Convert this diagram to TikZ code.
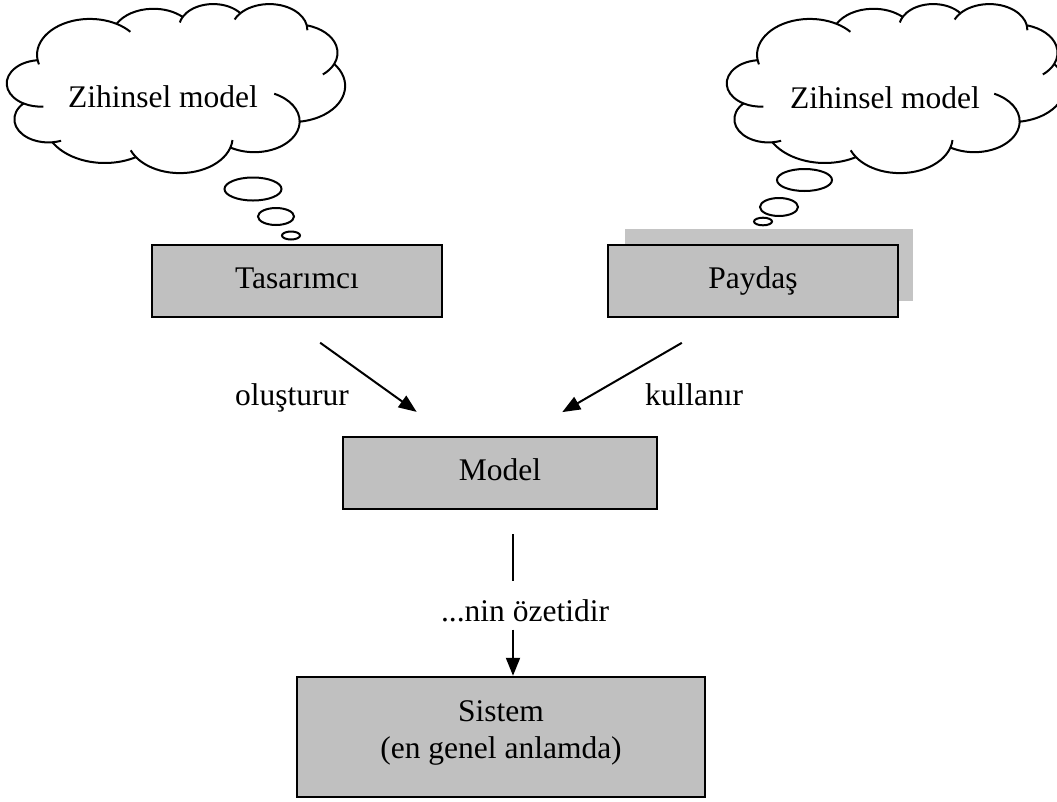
\documentclass[tikz,border=0pt]{standalone}
\usepackage{fontspec}
\setmainfont{Liberation Serif}
\usetikzlibrary{arrows.meta}
\definecolor{boxgray}{RGB}{192,192,192}
\definecolor{shadowgray}{RGB}{196,196,196}
\newcommand\diagfont{\fontsize{31.5}{37}\selectfont}

% Thought cloud built from elliptic lobes; the frame is 432 x 432 units.
\newcommand\thoughtcloud[1]{%
  \begin{scope}[shift={#1}]
  \begin{scope}[x=0.78241pt,y=-0.39120pt]
    \filldraw[cloudline,fill=white] (39.00,143.70) coordinate (c0)
      [lobe={67.53}{91.90}{-190.4875}{123.7805}] coordinate (c1)
      [lobe={53.33}{72.67}{-144.1024}{89.9452}] coordinate (c2)
      [lobe={43.65}{59.45}{-145.8079}{99.7230}] coordinate (c3)
      [lobe={48.57}{65.95}{-130.9861}{117.2417}] coordinate (c4)
      [lobe={53.33}{72.73}{-78.7089}{109.0269}] coordinate (c5)
      [lobe={67.75}{92.20}{-46.2673}{130.2690}] coordinate (c6)
      [lobe={57.85}{78.67}{0.6250}{114.0333}] coordinate (c7)
      [lobe={67.52}{92.15}{22.4516}{115.1726}] coordinate (c8)
      [lobe={77.20}{105.43}{66.2426}{75.7110}] coordinate (c9)
      [lobe={43.60}{59.18}{-274.9421}{146.7356}] coordinate (c10)
      [lobe={43.45}{59.45}{-246.8285}{152.5189}] -- cycle;
    % inner creases between the lobes
    \draw[cloudline]
      (c0) [lobe={67.53}{91.90}{-190.4875}{-10}]
      (c1) [lobe={67.53}{91.90}{-66.7070}{18}]
      (c2) [lobe={43.65}{59.45}{-145.8079}{-18.0862}]
      (c3) [lobe={48.57}{65.95}{-130.9861}{-18.1954}]
      (c4) [lobe={48.57}{65.95}{-13.7444}{14.8589}]
      (c5) [lobe={53.33}{72.73}{30.3180}{27.7515}]
      (c6) [lobe={57.85}{78.67}{0.6250}{-70.9174}]
      (c7) [lobe={67.52}{92.15}{22.4516}{-15.9984}]
      (c8) [lobe={67.52}{92.15}{137.6242}{14.0811}]
      (c9) [lobe={43.60}{59.18}{-274.9421}{-11.4475}]
      (c10) [lobe={43.45}{59.45}{-246.8285}{-26.4295}];
  \end{scope}
  \end{scope}}

\begin{document}
\begin{tikzpicture}[x=1pt,y=-1pt,
  declare function={vpar(\a,\b,\t)=\t+(atan2(\a*sin(\t),\b*cos(\t))-\t)-360*round((atan2(\a*sin(\t),\b*cos(\t))-\t)/360);},
  lobe/.style n args={4}{insert path={arc[start angle={vpar(#1,#2,#3)},end angle={vpar(#1,#2,(#3)+(#4))},x radius=#1,y radius=#2]}},
  cloudline/.style={line width=2pt,line join=round},
  bubble/.style={draw,fill=white,line width=2pt},
  box/.style={draw,fill=boxgray,line width=2.5pt,inner sep=0pt,font=\diagfont,
    text height=22pt,text depth=8pt},
  lbl/.style={inner sep=0pt,anchor=base,font=\diagfont},
  link/.style={line width=2pt,-{Triangle[length=18pt,width=14pt]}},
]
\useasboundingbox[fill=white] (0,0) rectangle (1057,801);

% thoughts
\thoughtcloud{(7,3.5)}
\thoughtcloud{(727,3.5)}
\node[lbl] (zm1) at (163,107) {Zihinsel model};
\node[lbl] (zm2) at (885,108) {Zihinsel model};

\draw[bubble] (253,189) ellipse [x radius=28.5,y radius=11.5];
\draw[bubble] (276,216.5) ellipse [x radius=18,y radius=8.5];
\draw[bubble] (291,235.5) ellipse [x radius=9,y radius=4];
\draw[bubble] (804.5,180) ellipse [x radius=27.5,y radius=11];
\draw[bubble] (779,207) ellipse [x radius=19,y radius=9];
\draw[bubble] (763,221.5) ellipse [x radius=9,y radius=3.8];

% actors
\fill[shadowgray] (625,229) rectangle (913,301);
\node[box,minimum width=290pt,minimum height=72pt] (tas) at (297,281) {Tasarımcı};
\node[box,minimum width=290pt,minimum height=72pt] (pay) at (753,281) {Paydaş};

% model and system
\node[box,minimum width=314pt,minimum height=72pt] (mdl) at (500,473) {Model};
\node[box,minimum width=408pt,minimum height=120pt,align=center,
  text height=,text depth=] (sis) at (501,737)
  {Sistem\\(en genel anlamda)\rule[-15pt]{0pt}{1pt}};

% relations
\node[lbl] (olus) at (292,405) {oluşturur};
\node[lbl] (kull) at (694,405) {kullanır};
\node[lbl] (ozet) at (525,621) {...nin özetidir};

\draw[link,shorten <=42pt,shorten >=41pt] ([xshift=-11pt]tas.south) -- ([xshift=-50pt]mdl.north);
\draw[link,shorten <=49.1pt,shorten >=47.2pt] ([xshift=-28.7pt]pay.south) -- ([xshift=21.4pt]mdl.north);
\draw[line width=2pt,shorten <=24pt,shorten >=17.5pt] ([xshift=13pt]mdl.south) -- ([xshift=-12pt]ozet.north);
\draw[link,shorten <=8pt] ([xshift=-12pt]ozet.south) -- ([xshift=12pt]sis.north);
\end{tikzpicture}
\end{document}
